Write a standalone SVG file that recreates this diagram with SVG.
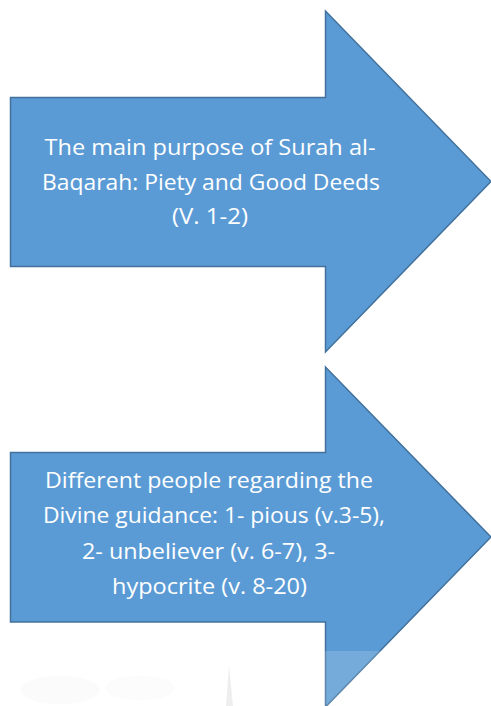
<svg xmlns="http://www.w3.org/2000/svg" width="491" height="706" viewBox="0 0 491 706">
<style>
.arrow{fill:#5B9BD5;stroke:#41719C;stroke-width:1.5;stroke-linejoin:miter}
.lbl{font-family:"Open Sans","Noto Sans","Liberation Sans",sans-serif;font-size:22.5px;fill:#FFFFFF;text-anchor:middle}
</style>
<rect width="491" height="706" fill="#FFFFFF"/>
<g id="arrow1">
<polygon class="arrow" points="10.5,97.5 325.5,97.5 325.5,11 491,181.5 325.5,352 325.5,266.5 10.5,266.5"/>
<text class="lbl" x="210" y="155" textLength="331" lengthAdjust="spacingAndGlyphs">The main purpose of Surah al-</text>
<text class="lbl" x="211" y="190" textLength="338" lengthAdjust="spacingAndGlyphs">Baqarah: Piety and Good Deeds</text>
<text class="lbl" x="210" y="224" textLength="76" lengthAdjust="spacingAndGlyphs">(V. 1-2)</text>
</g>
<g id="arrow2">
<polygon class="arrow" points="10.5,452.5 325.5,452.5 325.5,367 491,537 325.5,707 325.5,622 10.5,622"/>
<text class="lbl" x="209" y="488" textLength="328" lengthAdjust="spacingAndGlyphs">Different people regarding the</text>
<text class="lbl" x="214" y="523" textLength="342" lengthAdjust="spacingAndGlyphs">Divine guidance: 1- pious (v.3-5),</text>
<text class="lbl" x="208.5" y="559" textLength="253" lengthAdjust="spacingAndGlyphs">2- unbeliever (v. 6-7), 3-</text>
<text class="lbl" x="209.5" y="594" textLength="195" lengthAdjust="spacingAndGlyphs">hypocrite (v. 8-20)</text>
</g>
<g id="watermark">
<rect x="0" y="651" width="491" height="55" fill="#FFFFFF" opacity="0.16"/>
<polygon points="226,706 229,665 233,706" fill="#E2E2E2" opacity="0.6"/>
<ellipse cx="60" cy="690" rx="40" ry="14" fill="#F8F8F8" opacity="0.5"/>
<ellipse cx="140" cy="688" rx="35" ry="12" fill="#F9F9F9" opacity="0.5"/>
</g>
</svg>
